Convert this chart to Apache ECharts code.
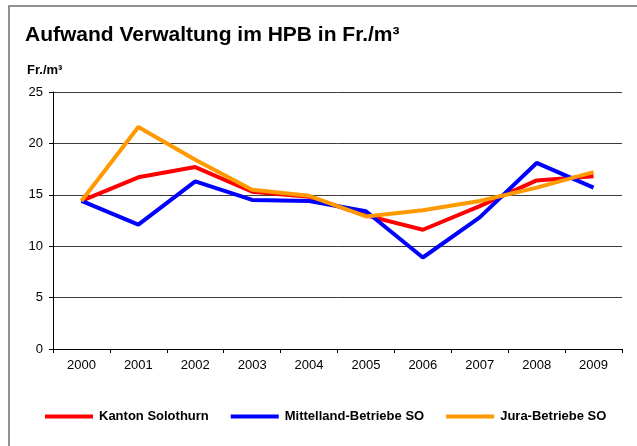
<!DOCTYPE html>
<html>
<head>
<meta charset="utf-8">
<script src="https://cdn.jsdelivr.net/npm/echarts@6/dist/echarts.min.js"></script>
<style>
  html, body { margin: 0; padding: 0; background: #fff; }
  #chart { width: 637px; height: 446px; }
</style>
</head>
<body>
<div id="chart"></div>
<script>
// Werte
var years = ["2000", "2001", "2002", "2003", "2004", "2005", "2006", "2007", "2008", "2009"];
var seriesNames = ["Kanton Solothurn", "Mittelland-Betriebe SO", "Jura-Betriebe SO"];
var kantonSO = [14.4, 16.7, 17.7, 15.3, 14.8, 13.0, 11.6, 13.9, 16.4, 16.8];
var mittellandSO = [14.4, 12.1, 16.3, 14.5, 14.4, 13.4, 8.9, 12.8, 18.1, 15.7];
var juraSO = [14.4, 21.6, 18.4, 15.5, 14.9, 12.9, 13.5, 14.4, 15.7, 17.2];
var yTicks = [0, 5, 10, 15, 20, 25];

var fontName = "Liberation Sans, Arial, sans-serif";

function makeLine(name, data, color) {
  return {
    name: name,
    type: "line",
    data: data,
    symbol: "none",
    lineStyle: { color: color, width: 4 },
    itemStyle: { color: color },
    z: 3
  };
}

var option = {
  animation: false,
  textStyle: { fontFamily: fontName },
  graphic: [
    {
      type: "rect",
      shape: { x: 9, y: 6, width: 700, height: 500 },
      style: { fill: "none", stroke: "#6e6e6e", lineWidth: 1.5 },
      silent: true
    }
  ],
  title: [
    {
      text: "Aufwand Verwaltung im HPB in Fr./m³",
      left: 20,
      top: 20,
      textStyle: { fontFamily: fontName, fontSize: 21, fontWeight: "bold", color: "#000" }
    },
    {
      text: "Fr./m³",
      left: 22,
      top: 59,
      textStyle: { fontFamily: fontName, fontSize: 13, fontWeight: "bold", color: "#000" }
    }
  ],
  legend: {
    left: 40,
    top: 405,
    itemWidth: 48,
    itemHeight: 4,
    itemGap: 22,
    icon: "rect",
    data: seriesNames,
    textStyle: { fontFamily: fontName, fontSize: 13, fontWeight: "bold", color: "#000", padding: [0, 0, 0, 1] }
  },
  grid: {
    left: 53,
    right: 15,
    top: 92,
    bottom: 97,
    containLabel: false
  },
  xAxis: {
    type: "category",
    data: years,
    boundaryGap: true,
    axisLine: { lineStyle: { color: "#000", width: 1 } },
    axisTick: { show: true, length: 4, inside: false, lineStyle: { color: "#000" } },
    axisLabel: { color: "#000", fontSize: 13, margin: 10, fontFamily: fontName },
    splitLine: { show: false }
  },
  yAxis: {
    type: "value",
    min: yTicks[0],
    max: yTicks[yTicks.length - 1],
    interval: 5,
    axisLine: { show: true, lineStyle: { color: "#000", width: 1 } },
    axisTick: { show: true, length: 4, lineStyle: { color: "#000" } },
    axisLabel: { color: "#000", fontSize: 13, margin: 10, fontFamily: fontName },
    splitLine: { show: true, lineStyle: { color: "#3a3a3a", width: 1 } }
  },
  series: [
    makeLine(seriesNames[0], kantonSO, "#ff0000"),
    makeLine(seriesNames[1], mittellandSO, "#0000ff"),
    makeLine(seriesNames[2], juraSO, "#ff9900")
  ]
};

var chart = echarts.init(document.getElementById("chart"), null, { renderer: "canvas" });
chart.setOption(option);
</script>
</body>
</html>
